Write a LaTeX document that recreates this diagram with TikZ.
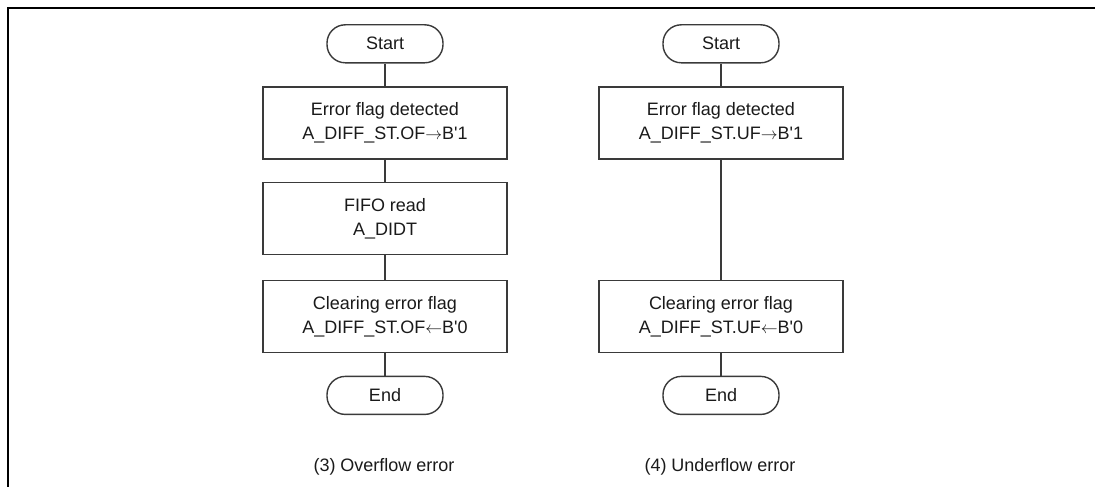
\documentclass[tikz,border=0pt]{standalone}
\usepackage{fontspec}
\setmainfont{Liberation Sans}
\usetikzlibrary{positioning}
\definecolor{c1}{HTML}{000000}
\definecolor{c2}{HTML}{3A3A3A}
\definecolor{textcolor}{HTML}{1A1A1A}
\newcommand{\q}{\textquotesingle}

\begin{document}
\begin{tikzpicture}[
    every node/.style={font=\fontsize{12.8}{17}\selectfont, text=textcolor},
    term/.style={
        rectangle, rounded corners=13pt, minimum width=2.9cm,
        minimum height=0.95cm, line width=1pt, draw=c2,
    },
    proc/.style={
        rectangle, minimum width=6.1cm, minimum height=1.8cm,
        line width=1pt, draw=c2, align=center,
    },
    link/.style={line width=1pt, color=c2},
    frame/.style={line width=1.4pt, color=c1},
]
\useasboundingbox (0, 0) rectangle (27.375, 12.175);

% frame
\draw[frame] (27.375, 11.975) -- (0.20, 11.975) -- (0.20, 0);

% ================================================ left: overflow
\node[term] (s3) at (9.625, 11.08) {Start};
\node[proc] (det3) at (9.625, 9.10) {Error flag detected\\ A\_DIFF\_ST.OF$\rightarrow$B\q 1};
\node[proc] (rd3) at (9.625, 6.71) {FIFO read\\ A\_DIDT};
\node[proc] (clr3) at (9.625, 4.26) {Clearing error flag\\ A\_DIFF\_ST.OF$\leftarrow$B\q 0};
\node[term] (e3) at (9.625, 2.29) {End};
\node (cap3) at (9.60, 0.50) {(3) Overflow error};

\draw[link] (s3) -- (det3);
\draw[link] (det3) -- (rd3);
\draw[link] (rd3) -- (clr3);
\draw[link] (clr3) -- (e3);

% ================================================ right: underflow
\node[term] (s4) at (18.025, 11.08) {Start};
\node[proc] (det4) at (18.025, 9.10) {Error flag detected\\ A\_DIFF\_ST.UF$\rightarrow$B\q 1};
\node[proc] (clr4) at (18.025, 4.26) {Clearing error flag\\ A\_DIFF\_ST.UF$\leftarrow$B\q 0};
\node[term] (e4) at (18.025, 2.29) {End};
\node (cap4) at (18.00, 0.50) {(4) Underflow error};

\draw[link] (s4) -- (det4);
\draw[link] (det4) -- (clr4);
\draw[link] (clr4) -- (e4);

\end{tikzpicture}
\end{document}
